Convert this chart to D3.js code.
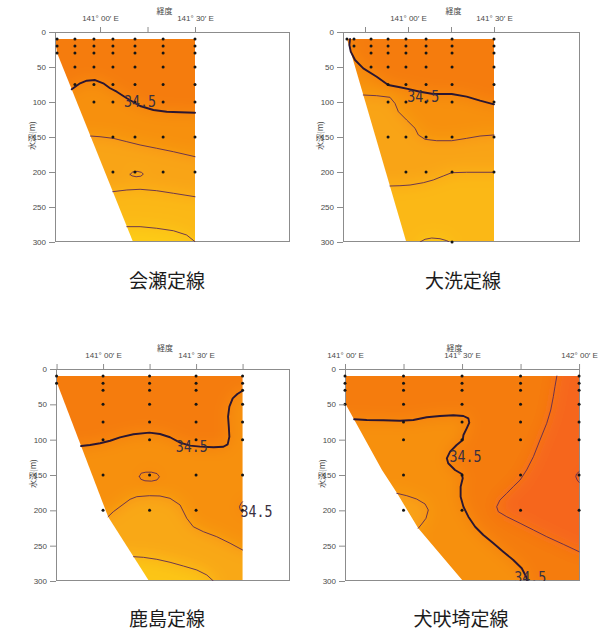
<!DOCTYPE html>
<html><head><meta charset="utf-8">
<script src="https://cdn.jsdelivr.net/npm/d3@7/dist/d3.min.js"></script>
<style>
body{margin:0;background:#fff;}
svg{display:block;}
</style></head>
<body>
<svg id="chart" width="603" height="630"></svg>
<script>
// ================= DATA =================
const titles = ["会瀬定線", "大洗定線", "鹿島定線", "犬吠埼定線"];
const depthTicks = [0, 50, 100, 150, 200, 250, 300];
const depthAxisTitle = "水深(m)";
const lonAxisTitle = "経度";
const contourLabel = "34.5";

// salinity -> colour
const salinityLevels = [34.15, 34.25, 34.35, 34.45, 34.55, 34.65, 34.75];
const salinityColors = ["#FDCB14", "#FBB814", "#F9A414", "#F7900F", "#F57B0C", "#F6671A", "#F45A1E"];

// ---- 会瀬定線 ----
const aseLonTicks = [141.0, 141.25, 141.5];
const aseLonTickLabels = ["141° 00′ E", "", "141° 30′ E"];
const aseStationLon = [140.774, 140.868, 140.968, 141.068, 141.184, 141.332, 141.5];
const aseStationDepth = [
  [10, 20, 30], [10, 20, 30, 50, 75], [10, 20, 30, 50, 75, 100],
  [10, 20, 30, 50, 75, 100, 150, 200], [10, 20, 30, 50, 75, 100, 150, 200],
  [10, 20, 30, 50, 75, 100, 150, 200], [10, 20, 30, 50, 75, 100, 150, 200]];
const aseSection = [[140.763, 10], [140.774, 30], [141.174, 300], [141.5, 300], [141.5, 10]];
const aseC345 = [[140.851, 81.9], [140.895, 73.3], [140.930, 69.6], [140.974, 68.6], [141.017, 73.3], [141.053, 80.4], [141.088, 85.3], [141.141, 94.7], [141.211, 105.7], [141.281, 111.4], [141.351, 113.9], [141.421, 114.7], [141.5, 115.3]];
const aseC344 = [[140.950, 148.6], [141.0, 149.6], [141.070, 151.9], [141.141, 156.7], [141.211, 161.4], [141.298, 166.1], [141.386, 171], [141.5, 178.1]];
const aseC343 = [[141.067, 228.1], [141.141, 225.7], [141.211, 224.7], [141.298, 226.7], [141.386, 230.4], [141.5, 235.3]];
const aseC342 = [[141.141, 278.1], [141.211, 278.1], [141.298, 280.4], [141.386, 283.9], [141.456, 290], [141.5, 299.6]];
const aseC343b = [[141.158, 203.5], [141.172, 200], [141.195, 199], [141.218, 200.5], [141.228, 203], [141.215, 206], [141.19, 206.8], [141.168, 205.5], [141.158, 203.5]];
const aseLabelPos = [[141.211, 99.6]];

// ---- 大洗定線 ----
const oaraiLonTicks = [140.75, 141.0, 141.25, 141.5];
const oaraiLonTickLabels = ["", "141° 00′ E", "", "141° 30′ E"];
const oaraiStationLon = [140.645, 140.686, 140.785, 140.884, 140.988, 141.105, 141.256, 141.5];
const oaraiStationDepth = [
  [10], [10, 20], [10, 20, 30, 50], [10, 20, 30, 50, 75, 100, 150],
  [10, 20, 30, 50, 75, 100, 150, 200], [10, 20, 30, 50, 75, 100, 150, 200],
  [10, 20, 30, 50, 75, 100, 150, 200, 300], [10, 20, 30, 50, 75, 100, 150, 200]];
const oaraiSection = [[140.645, 10], [140.99, 300], [141.5, 300], [141.5, 10]];
const oaraiC345 = [[140.663, 10], [140.659, 18.6], [140.667, 28.1], [140.692, 40], [140.740, 51.9], [140.818, 63.9], [140.885, 75.7], [140.953, 79], [141.012, 81.9], [141.070, 85.3], [141.147, 88.6], [141.254, 88.6], [141.341, 92.4], [141.419, 98.1], [141.5, 103.3]];
const oaraiC344 = [[140.740, 90], [140.818, 91], [140.895, 93.3], [140.924, 101.9], [140.944, 113.9], [140.992, 125.7], [141.041, 137.6], [141.060, 147.1], [141.099, 153.3], [141.167, 155.3], [141.254, 155.3], [141.341, 151.9], [141.419, 148.6], [141.5, 147.1]];
const oaraiC343 = [[140.895, 220], [140.953, 219.6], [141.012, 218.6], [141.089, 215.3], [141.147, 211.4], [141.205, 205.7], [141.254, 201], [141.341, 200.4], [141.5, 200.4]];
const oaraiC342 = [[141.070, 300], [141.099, 296.1], [141.138, 294.3], [141.186, 295.3], [141.225, 298.1], [141.240, 300]];
const oaraiLabelPos = [[141.089, 92.4]];

// ---- 鹿島定線 ----
const kashimaLonTicks = [140.75, 141.0, 141.25, 141.5, 141.75];
const kashimaLonTickLabels = ["", "141° 00′ E", "", "141° 30′ E", ""];
const kashimaStationLon = [140.75, 141.0, 141.25, 141.5, 141.75];
const kashimaStationDepth = [
  [10, 20], [10, 20, 30, 50, 75, 100, 150, 200], [10, 20, 30, 50, 75, 100, 150, 200],
  [10, 20, 30, 50, 75, 100, 150, 200], [10, 20, 30, 50, 75, 100, 150, 200]];
const kashimaSection = [[140.75, 10], [140.753, 20], [141.027, 209], [141.247, 300], [141.75, 300], [141.75, 10]];
const kashimaC345 = [[140.882, 109], [140.930, 107.5], [140.984, 105.1], [141.038, 101.5], [141.091, 96.7], [141.163, 92.4], [141.249, 90.1], [141.306, 92], [141.360, 96.6], [141.414, 104.3], [141.468, 108.5], [141.522, 109.9], [141.594, 110.8], [141.647, 110], [141.670, 106.6], [141.679, 95.8], [141.676, 81.6], [141.672, 67.5], [141.679, 53.3], [141.697, 41.5], [141.722, 35.4], [141.75, 30.7]];
const kashimaC344 = [[141.027, 209], [141.055, 202], [141.091, 194.9], [141.145, 184.4], [141.181, 180.7], [141.249, 179.3], [141.306, 179.7], [141.360, 183], [141.414, 192.4], [141.450, 211.3], [141.485, 223.2], [141.539, 230.2], [141.611, 237.3], [141.683, 246.6], [141.75, 256.1]];
const kashimaC343 = [[141.164, 265.6], [141.217, 266.5], [141.289, 269.3], [141.360, 273.5], [141.432, 278.8], [141.504, 284.4], [141.558, 291.5], [141.593, 300]];
const kashimaC345b = [[141.195, 152], [141.205, 147.5], [141.23, 146], [141.26, 146], [141.29, 148], [141.303, 152.5], [141.29, 157], [141.26, 158.7], [141.225, 158.2], [141.203, 156], [141.195, 152]];
const kashimaC345c = [[141.75, 187.8], [141.740, 191], [141.733, 194.9], [141.738, 199.5], [141.75, 203.3]];
const kashimaLabelPos = [[141.477, 110.8], [141.825, 202.4]];

// ---- 犬吠埼定線 ----
const inuboLonTicks = [141.0, 141.25, 141.5, 141.75, 142.0];
const inuboLonTickLabels = ["141° 00′ E", "", "141° 30′ E", "", "142° 00′ E"];
const inuboStationLon = [141.0, 141.25, 141.5, 141.75, 142.0];
const inuboStationDepth = [
  [10, 20, 30, 50], [10, 20, 30, 50, 75, 100, 150, 200], [10, 20, 30, 50, 75, 100, 150, 200],
  [10, 20, 30, 50, 75, 100, 150, 200], [10, 20, 30, 50, 75, 100, 150, 200]];
const inuboSection = [[141.0, 10], [141.0, 48], [141.158, 143], [141.222, 175.5], [141.312, 225], [141.504, 300], [142.0, 300], [142.0, 10]];
const inuboC345 = [[141.039, 71.2], [141.093, 72.2], [141.164, 72.6], [141.235, 73.2], [141.292, 72.2], [141.349, 68.3], [141.406, 66.5], [141.463, 65.5], [141.506, 66.5], [141.527, 69.8], [141.531, 76], [141.520, 83.9], [141.506, 93.4], [141.503, 100.5], [141.477, 107.5], [141.449, 117], [141.435, 126.4], [141.441, 133.4], [141.470, 142.9], [141.499, 148.6], [141.503, 154.7], [141.494, 166.5], [141.494, 180.7], [141.506, 194.9], [141.527, 209], [141.556, 223.2], [141.591, 234.9], [141.634, 246.6], [141.676, 258.5], [141.719, 270.3], [141.755, 282], [141.774, 293.9], [141.779, 300]];
const inuboC346 = [[141.905, 10], [141.897, 25], [141.890, 39.2], [141.879, 58], [141.862, 76.8], [141.833, 100.5], [141.805, 124.1], [141.776, 142.9], [141.748, 157.1], [141.719, 166.5], [141.691, 175.9], [141.662, 185.4], [141.648, 194.9], [141.655, 201.9], [141.691, 209], [141.748, 218.3], [141.805, 227.8], [141.862, 237.3], [141.933, 248.1], [142.0, 258.5]];
const inuboC344 = [[141.221, 175.9], [141.264, 179.3], [141.306, 184], [141.342, 191], [141.356, 199.5], [141.346, 211.3], [141.328, 219.3], [141.313, 225.4]];
const inuboC347 = [[142.0, 145.3], [141.989, 148.6], [141.986, 152.4], [141.992, 157.1], [142.0, 160.4]];
const inuboLabelPos = [[141.515, 124.1], [141.791, 295.7]];

// ================= LAYOUT =================
const panels = [
  { title: titles[0], x0: 55, x1: 290, y0: 32, y1: 242, lon: [140.763, 142.0], titleX: 167, titleY: 279,
    ticks: aseLonTicks, tickLabels: aseLonTickLabels, sLon: aseStationLon, sDep: aseStationDepth, section: aseSection,
    base: 34.55, labels: aseLabelPos,
    contours: [
      { pts: aseC345, bold: true, inner: 34.45, close: ["endE", "SE", "SW", "startW"] },
      { pts: aseC344, inner: 34.35, close: ["endE", "SE", "SW", "startW"] },
      { pts: aseC343, inner: 34.25, close: ["endE", "SE", "SW", "startW"] },
      { pts: aseC342, inner: 34.15, close: ["endE", "SE", "SW", "startW"] },
      { pts: aseC343b, inner: 34.28, close: [] }] },
  { title: titles[1], x0: 343, x1: 580, y0: 32, y1: 242, lon: [140.622, 142.0], titleX: 463, titleY: 279,
    ticks: oaraiLonTicks, tickLabels: oaraiLonTickLabels, sLon: oaraiStationLon, sDep: oaraiStationDepth, section: oaraiSection,
    base: 34.55, labels: oaraiLabelPos,
    contours: [
      { pts: oaraiC345, bold: true, inner: 34.45, close: ["endE", "SE", "SW", "startW"] },
      { pts: oaraiC344, inner: 34.35, close: ["endE", "SE", "SW", "startW"] },
      { pts: oaraiC343, inner: 34.25, close: ["endE", "SE", "SW", "startW"] },
      { pts: oaraiC342, inner: 34.15, close: ["endS", "startS"] }] },
  { title: titles[2], x0: 56, x1: 290, y0: 369, y1: 581, lon: [140.747, 142.005], titleX: 167, titleY: 617,
    ticks: kashimaLonTicks, tickLabels: kashimaLonTickLabels, sLon: kashimaStationLon, sDep: kashimaStationDepth, section: kashimaSection,
    base: 34.55, labels: kashimaLabelPos,
    contours: [
      { pts: kashimaC345, bold: true, inner: 34.45, close: ["endE", "SE", "SW", "startW"] },
      { pts: kashimaC345b, inner: 34.5, close: [] },
      { pts: kashimaC344, inner: 34.33, close: ["endE", "SE", "SW", "startW"] },
      { pts: kashimaC343, inner: 34.18, close: ["endS", "SW", "startW"] },
      { pts: kashimaC345c, inner: 34.52, close: ["endE", "startE"] }] },
  { title: titles[3], x0: 345, x1: 580, y0: 369, y1: 581, lon: [141.0, 142.004], titleX: 461, titleY: 617,
    ticks: inuboLonTicks, tickLabels: inuboLonTickLabels, sLon: inuboStationLon, sDep: inuboStationDepth, section: inuboSection,
    base: 34.55, labels: inuboLabelPos,
    contours: [
      { pts: inuboC345, bold: true, inner: 34.45, close: ["endS", "SW", "startW"] },
      { pts: inuboC344, inner: 34.36, close: ["endS", "SW", "startW"] },
      { pts: inuboC346, inner: 34.66, close: ["endE", "NE", "startN"] },
      { pts: inuboC347, inner: 34.72, close: ["endE", "startE"] }] }
];

// ================= RENDER =================
const svg = d3.select("#chart");
const defs = svg.append("defs");
defs.append("filter").attr("id", "soft").attr("filterUnits", "userSpaceOnUse")
  .attr("x", -200).attr("y", -200).attr("width", 1000).attr("height", 1030)
  .append("feGaussianBlur").attr("stdDeviation", 8);
const color = d3.scaleLinear().domain(salinityLevels).range(salinityColors);

function closePolygon(c) {
  const s = c.pts[0], e = c.pts[c.pts.length - 1];
  const W = 139, E = 143, N = -60, S = 460;
  const m = { endE: [E, e[1]], endS: [e[0], S], endN: [e[0], N], SE: [E, S], SW: [W, S], NE: [E, N], NW: [W, N],
    startW: [W, s[1]], startS: [s[0], S], startN: [s[0], N], startE: [E, s[1]] };
  return c.pts.concat(c.close.map(k => m[k]));
}

panels.forEach((p, i) => {
  const x = d3.scaleLinear().domain(p.lon).range([p.x0, p.x1]);
  const y = d3.scaleLinear().domain([0, 300]).range([p.y0, p.y1]);
  const line = d3.line().x(d => x(d[0])).y(d => y(d[1]));
  const g = svg.append("g");

  defs.append("clipPath").attr("id", "sec" + i).append("path").attr("d", line(p.section) + "Z");
  defs.append("clipPath").attr("id", "frm" + i).append("rect")
    .attr("x", p.x0).attr("y", p.y0).attr("width", p.x1 - p.x0).attr("height", p.y1 - p.y0);

  // colour field
  const fillG = g.append("g").attr("clip-path", `url(#sec${i})`);
  const blurG = fillG.append("g").attr("filter", "url(#soft)");
  blurG.append("rect").attr("x", p.x0 - 60).attr("y", p.y0 - 60)
    .attr("width", p.x1 - p.x0 + 120).attr("height", p.y1 - p.y0 + 120).attr("fill", color(p.base));
  p.contours.forEach(c => {
    blurG.append("path").attr("d", line(closePolygon(c)) + "Z").attr("fill", color(c.inner));
  });

  // frame
  g.append("rect").attr("x", p.x0 + 0.5).attr("y", p.y0 + 0.5)
    .attr("width", p.x1 - p.x0 - 1).attr("height", p.y1 - p.y0 - 1)
    .attr("fill", "none").attr("stroke", "#8c8c8c").attr("stroke-width", 1);

  // contour lines
  const lineG = g.append("g").attr("clip-path", `url(#frm${i})`);
  p.contours.forEach(c => {
    lineG.append("path").attr("d", line(c.pts)).attr("fill", "none")
      .attr("stroke", c.bold ? "#2a1632" : "#5e2a52")
      .attr("stroke-width", c.bold ? 1.9 : 0.9)
      .attr("stroke-linejoin", "round").attr("stroke-linecap", "round");
  });

  // station dots
  const dots = [];
  p.sLon.forEach((lon, k) => p.sDep[k].forEach(d => dots.push([lon, d])));
  g.append("g").selectAll("circle").data(dots).join("circle")
    .attr("cx", d => x(d[0])).attr("cy", d => y(d[1])).attr("r", 1.5).attr("fill", "#151515");

  // contour labels
  const labG = g.append("g").attr("clip-path", `url(#frm${i})`);
  labG.selectAll("text").data(p.labels).join("text")
    .attr("x", d => x(d[0])).attr("y", d => y(d[1]))
    .attr("text-anchor", "middle").attr("dominant-baseline", "central")
    .attr("font-family", "'DejaVu Sans Mono', monospace").attr("font-size", 15)
    .attr("textLength", 32).attr("lengthAdjust", "spacingAndGlyphs")
    .attr("fill", "#3a3040").text(contourLabel);
  // second label in 鹿島 panel sits outside the frame - draw unclipped
  if (i === 2) {
    labG.selectAll("text").filter((d, k) => k === 1).remove();
    g.append("text").attr("x", x(p.labels[1][0])).attr("y", y(p.labels[1][1]))
      .attr("text-anchor", "middle").attr("dominant-baseline", "central")
      .attr("font-family", "'DejaVu Sans Mono', monospace").attr("font-size", 15)
      .attr("textLength", 32).attr("lengthAdjust", "spacingAndGlyphs")
      .attr("fill", "#3a3040").text(contourLabel);
  }

  // axes
  const yAxis = d3.axisLeft(y).tickValues(depthTicks).tickSize(6).tickPadding(3).tickFormat(d3.format("d"));
  const ya = g.append("g").attr("transform", `translate(${p.x0},0)`).call(yAxis);
  const xAxis = d3.axisTop(x).tickValues(p.ticks).tickSize(5).tickPadding(6)
    .tickFormat((d, k) => p.tickLabels[k]);
  const xa = g.append("g").attr("transform", `translate(0,${p.y0})`).call(xAxis);
  [ya, xa].forEach(a => {
    a.select(".domain").remove();
    a.selectAll(".tick line").attr("stroke", "#8c8c8c");
    a.selectAll(".tick text").attr("fill", "#4a4a4a").attr("font-size", 8)
      .attr("font-family", "'Liberation Sans', Arial, sans-serif");
  });

  g.append("text").attr("x", (p.x0 + p.x1) / 2 - 8).attr("y", p.y0 - 22)
    .attr("text-anchor", "middle").attr("dominant-baseline", "central")
    .attr("font-family", "'Noto Sans CJK JP', sans-serif").attr("font-size", 8).attr("fill", "#444")
    .text(lonAxisTitle);
  g.append("text").attr("transform", `translate(${p.x0 - 24},${y(148)}) rotate(-90)`)
    .attr("text-anchor", "middle").attr("dominant-baseline", "central")
    .attr("font-family", "'Noto Sans CJK JP', sans-serif").attr("font-size", 8).attr("fill", "#444")
    .text(depthAxisTitle);

  g.append("text").attr("x", p.titleX).attr("y", p.titleY)
    .attr("text-anchor", "middle").attr("dominant-baseline", "central")
    .attr("font-family", "'Noto Sans CJK JP', sans-serif").attr("font-size", 19).attr("fill", "#1c1c1c")
    .text(p.title);
});
</script>
</body></html>
